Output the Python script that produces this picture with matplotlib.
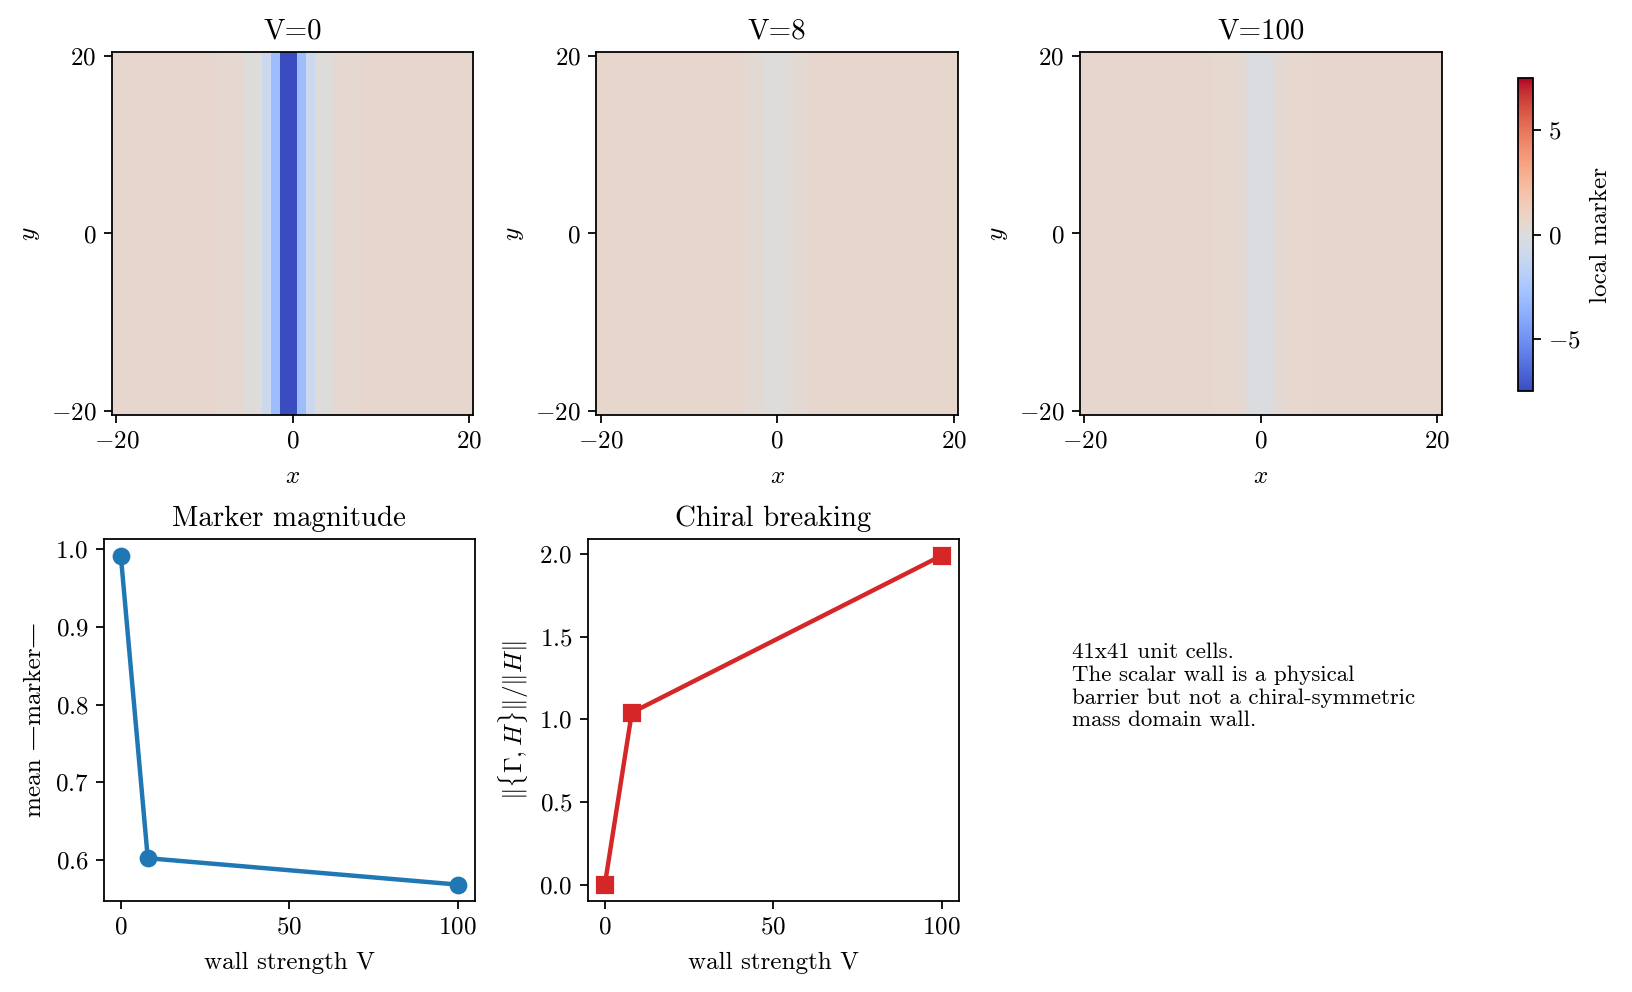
import numpy as np
import matplotlib
matplotlib.use("Agg")
import matplotlib.pyplot as plt
from matplotlib.colors import Normalize
from matplotlib.cm import ScalarMappable

plt.rcParams["font.family"] = ["cmr10", "DejaVu Serif"]
plt.rcParams["mathtext.fontset"] = "cm"
plt.rcParams["axes.formatter.use_mathtext"] = True
plt.rcParams["axes.unicode_minus"] = True
plt.rcParams["font.size"] = 11.3
plt.rcParams["xtick.labelsize"] = 11.3
plt.rcParams["ytick.labelsize"] = 11.3

# lattice coordinates (41x41 unit cells)
coords = np.arange(-20, 21)
wall_strengths = [0, 8, 100]

# local marker profile across x (constant along y), one per wall strength
profile_v0 = [0.6] * 12 + [0.45] * 3 + [0.0] * 2 + [-0.9, -3.0, -7.5, -7.5, -3.0, -0.9] + [0.0] * 2 + [0.45] * 3 + [0.6] * 13
profile_v8 = [0.68] * 14 + [0.6] * 3 + [0.4] * 2 + [0.05] * 3 + [0.4] * 2 + [0.6] * 3 + [0.68] * 14
profile_v100 = [0.63] * 15 + [0.57] * 3 + [0.35] + [-0.15] * 3 + [0.35] + [0.57] * 3 + [0.63] * 15
profiles = [profile_v0, profile_v8, profile_v100]

# summary curves
mean_abs_marker = [0.992, 0.602, 0.568]
chiral_breaking = [0.0, 1.04, 1.99]

info_text = ("41x41 unit cells.\nThe scalar wall is a physical\n"
             "barrier but not a chiral-symmetric\nmass domain wall.")

fig = plt.figure(figsize=(10.2, 6.2), dpi=160)
norm = Normalize(vmin=-7.5, vmax=7.5)
cmap = "coolwarm"

top_lefts = [0.0686, 0.3655, 0.6618]
for left, V, prof in zip(top_lefts, wall_strengths, profiles):
    ax = fig.add_axes([left, 0.5817, 0.2215, 0.3659])
    field = np.tile(np.array(prof), (len(coords), 1))
    ax.imshow(field, cmap=cmap, norm=norm, origin="lower", aspect="auto",
              extent=[coords[0] - 0.5, coords[-1] + 0.5, coords[0] - 0.5, coords[-1] + 0.5])
    ax.set_xticks([-20, 0, 20])
    ax.set_yticks([-20, 0, 20])
    ax.set_xlabel("$x$", labelpad=6)
    ax.set_ylabel("$y$")
    ax.set_title(f"V={V}", fontsize=13)

cax = fig.add_axes([0.930, 0.6058, 0.0092, 0.3155])
cb = fig.colorbar(ScalarMappable(norm=norm, cmap=cmap), cax=cax)
cb.set_ticks([-5, 0, 5])
cb.set_label("local marker")

ax1 = fig.add_axes([0.0637, 0.0917, 0.2271, 0.3649])
ax1.plot(wall_strengths, mean_abs_marker, "o-", color="#1f77b4", lw=2, ms=7)
ax1.set_xlabel("wall strength V", labelpad=6)
ax1.set_ylabel("mean —marker—")
ax1.set_title("Marker magnitude", fontsize=13)
ax1.set_xticks([0, 50, 100])

ax2 = fig.add_axes([0.3603, 0.0917, 0.2271, 0.3649])
ax2.plot(wall_strengths, chiral_breaking, "s-", color="#d62728", lw=2, ms=7)
ax2.set_xlabel("wall strength V", labelpad=6)
ax2.set_ylabel(r"$\Vert\{\Gamma,H\}\Vert/\Vert H\Vert$")
ax2.set_title("Chiral breaking", fontsize=13)
ax2.set_xticks([0, 50, 100])

fig.text(0.657, 0.352, info_text, fontsize=10.3, va="top", ha="left")

fig.savefig("out.png", dpi=160)
